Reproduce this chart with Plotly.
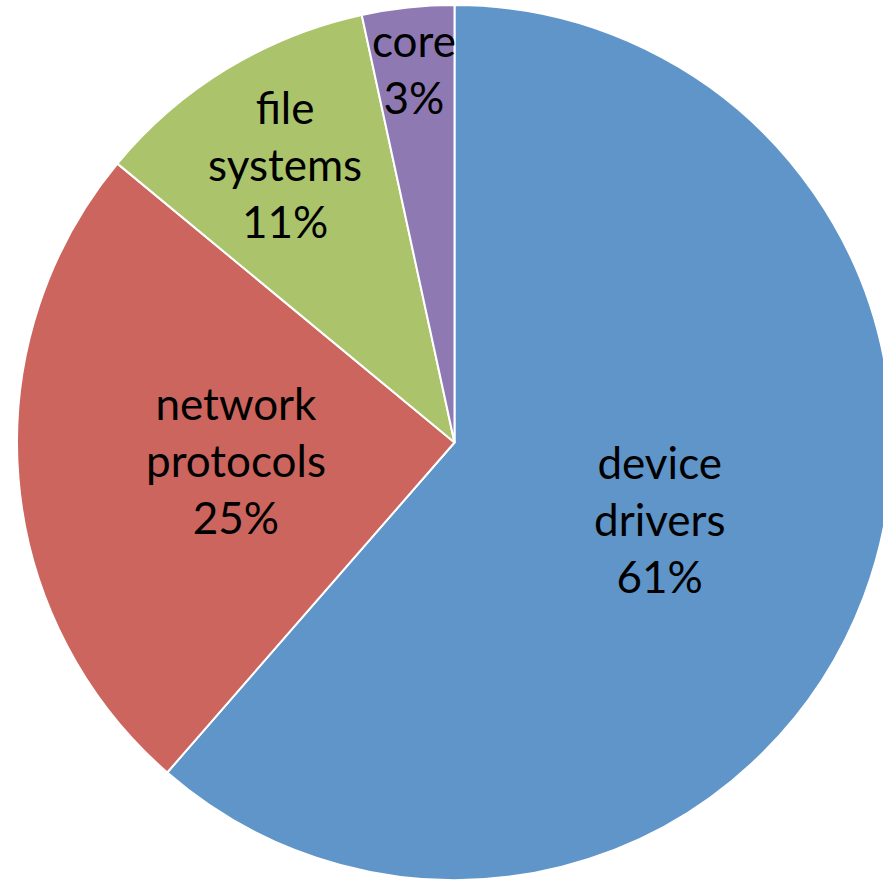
import math
import plotly.graph_objects as go

# Share of code by subsystem (percent)
categories = ["device drivers", "network protocols", "file systems", "core"]
label_lines = ["device<br>drivers", "network<br>protocols", "file<br>systems", "core"]
shares = [61.4, 24.6, 10.6, 3.4]
colors = ["#5F95C8", "#CC655D", "#ABC46B", "#8F79B3"]

# How far out (fraction of radius) each label sits along its slice's mid-angle
label_radius = [0.5, 0.5, 0.745, 0.86]

W, H = 893, 886
x0, x1 = 17, 892          # horizontal pixel span of the pie domain
y0, y1 = 5, 880           # vertical pixel span of the pie domain (from top)
cx = (x0 + x1) / 2
cy = (y0 + y1) / 2
r = min(x1 - x0, y1 - y0) / 2

fig = go.Figure(
    go.Pie(
        labels=categories,
        values=shares,
        sort=False,
        direction="clockwise",
        rotation=0,
        marker=dict(colors=colors, line=dict(color="white", width=2)),
        textinfo="none",
        hoverinfo="label+percent",
        domain=dict(x=[x0 / W, x1 / W], y=[1 - y1 / H, 1 - y0 / H]),
        showlegend=False,
    )
)

# Labels placed along the middle angle of each slice
total = sum(shares)
cum = 0
for text, val, frac in zip(label_lines, shares, label_radius):
    mid = (cum + val / 2) / total * 2 * math.pi
    cum += val
    px = cx + frac * r * math.sin(mid)
    py = cy - frac * r * math.cos(mid)
    fig.add_annotation(
        x=px / W, y=1 - py / H, xref="paper", yref="paper",
        text=f"{text}<br>{round(val / total * 100)}%",
        showarrow=False, xanchor="center", yanchor="middle",
        font=dict(family="Lato, 'Open Sans', sans-serif", size=44, color="black"),
        align="center",
    )

fig.update_layout(
    width=W, height=H,
    margin=dict(l=0, r=0, t=0, b=0),
    paper_bgcolor="white",
    plot_bgcolor="white",
)

fig.write_html(
    "out.html",
    post_script="document.documentElement.style.overflow='hidden';document.body.style.overflow='hidden';document.body.style.margin='0';",
)
